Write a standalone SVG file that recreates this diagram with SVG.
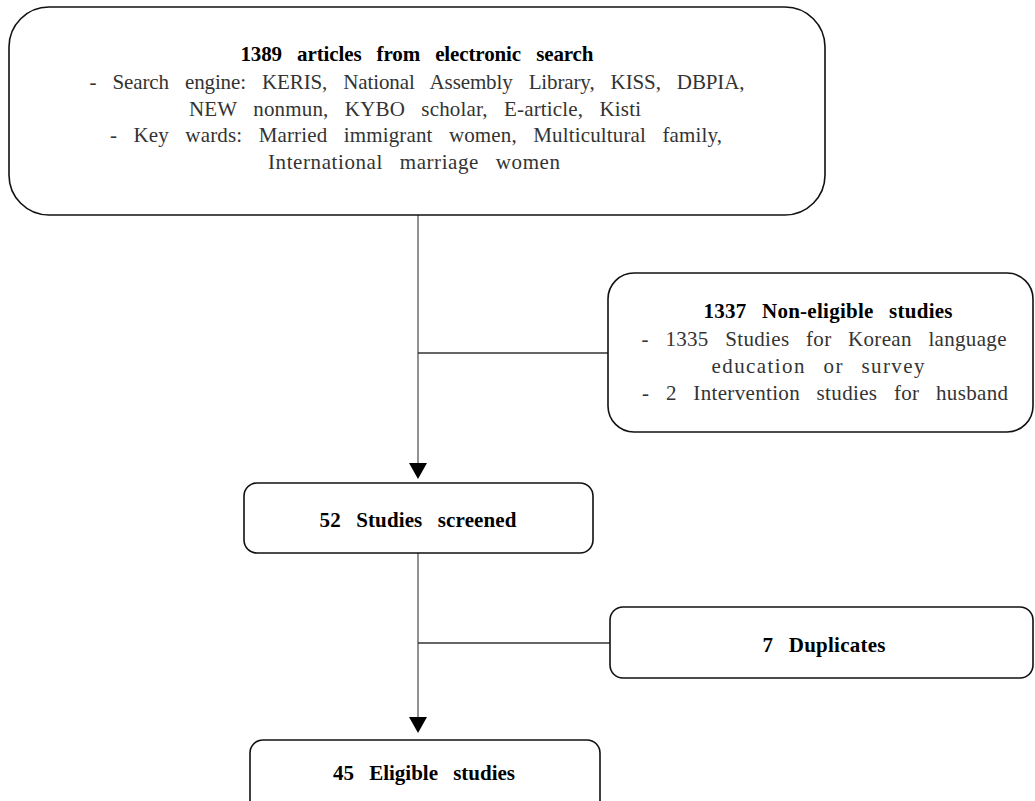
<svg xmlns="http://www.w3.org/2000/svg" width="1035" height="801" viewBox="0 0 1035 801">
<style>
.box{fill:#fff;stroke:#111;stroke-width:1.6}
.line{stroke:#777;stroke-width:1.6;fill:none}
.hline{stroke:#333;stroke-width:1.4;fill:none}
.head{fill:#000}
.t{font-family:"Liberation Serif","Noto Serif",serif;font-size:21px;fill:#333;text-anchor:middle;word-spacing:11px}
.b{font-family:"Liberation Serif","Noto Serif",serif;font-size:21px;font-weight:bold;fill:#000;text-anchor:middle;word-spacing:10px}
</style>
<rect width="1035" height="801" fill="#fff"/>
<g id="connectors">
<line class="line" x1="418" y1="214" x2="418" y2="465"/>
<polygon class="head" points="409,463 427,463 418,479"/>
<line class="hline" x1="418" y1="353" x2="608" y2="353"/>
<line class="line" x1="418" y1="553" x2="418" y2="719"/>
<polygon class="head" points="409,717 427,717 418,733"/>
<line class="hline" x1="418" y1="643" x2="610" y2="643"/>
</g>
<g id="search">
<rect class="box" x="9" y="7" width="816" height="208" rx="40"/>
<text class="b" x="417" y="61" textLength="353" lengthAdjust="spacing">1389 articles from electronic search</text>
<text class="t" x="417" y="89" textLength="655" lengthAdjust="spacing">- Search engine: KERIS, National Assembly Library, KISS, DBPIA,</text>
<text class="t" x="415" y="116" textLength="452" lengthAdjust="spacing">NEW nonmun, KYBO scholar, E-article, Kisti</text>
<text class="t" x="416" y="142" textLength="612" lengthAdjust="spacing">- Key wards: Married immigrant women, Multicultural family,</text>
<text class="t" x="414" y="169" textLength="292" lengthAdjust="spacing">International marriage women</text>
</g>
<g id="noneligible">
<rect class="box" x="608" y="273" width="425" height="159" rx="26"/>
<text class="b" x="828" y="318" textLength="249" lengthAdjust="spacing">1337 Non-eligible studies</text>
<text class="t" x="824" y="346" textLength="365" lengthAdjust="spacing">- 1335 Studies for Korean language</text>
<text class="t" x="818" y="373" textLength="213" lengthAdjust="spacing">education or survey</text>
<text class="t" x="825" y="400" textLength="366" lengthAdjust="spacing">- 2 Intervention studies for husband</text>
</g>
<g id="screened">
<rect class="box" x="244" y="483" width="349" height="70" rx="13"/>
<text class="b" x="418" y="527" textLength="197" lengthAdjust="spacing">52 Studies screened</text>
</g>
<g id="duplicates">
<rect class="box" x="610" y="607" width="423" height="71" rx="13"/>
<text class="b" x="824" y="652" textLength="123" lengthAdjust="spacing">7 Duplicates</text>
</g>
<g id="eligible">
<rect class="box" x="250" y="740" width="350" height="75" rx="13"/>
<text class="b" x="424" y="780" textLength="182" lengthAdjust="spacing">45 Eligible studies</text>
</g>
</svg>
